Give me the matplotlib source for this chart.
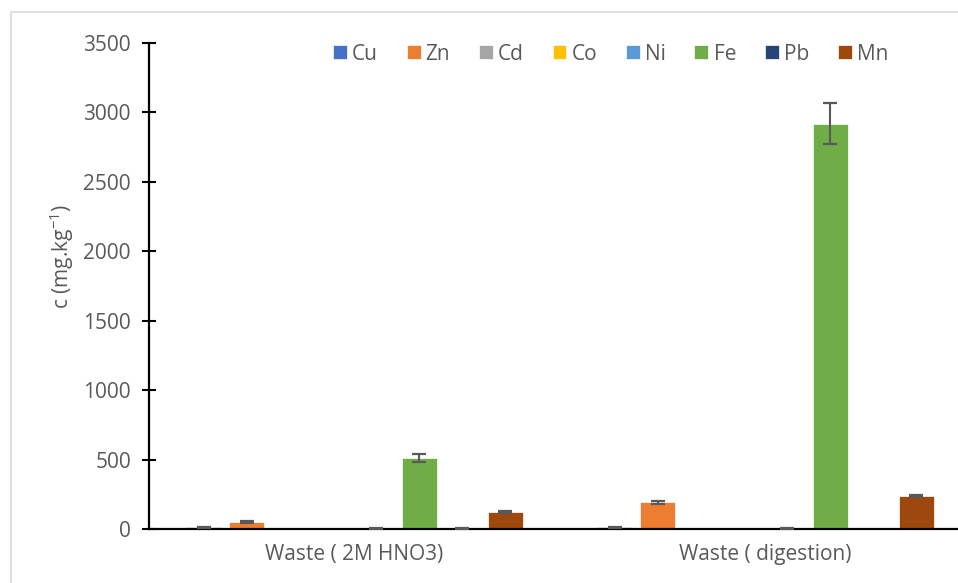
import numpy as np
import matplotlib
matplotlib.use("Agg")
import matplotlib.pyplot as plt
from matplotlib.patches import Rectangle

# Concentrations of metals in waste samples (mg/kg) with standard deviations
categories = ["Waste ( 2M HNO3)", "Waste ( digestion)"]
metals = ["Cu", "Zn", "Cd", "Co", "Ni", "Fe", "Pb", "Mn"]
values = {
    "Cu": [12, 12],
    "Zn": [53, 192],
    "Cd": [np.nan, np.nan],
    "Co": [np.nan, np.nan],
    "Ni": [4, 4],
    "Fe": [511, 2918],
    "Pb": [4, np.nan],
    "Mn": [125, 238],
}
errors = {
    "Cu": [4, 5],
    "Zn": [8, 12],
    "Cd": [0, 0],
    "Co": [0, 0],
    "Ni": [2, 2],
    "Fe": [27, 147],
    "Pb": [2, 0],
    "Mn": [8, 8],
}
colors = ["#4472C4", "#ED7D31", "#A5A5A5", "#FFC000",
          "#5B9BD5", "#70AD47", "#264478", "#9E480E"]

plt.rcParams["font.family"] = ["Open Sans", "DejaVu Sans"]
text_gray = "#595959"
fs = 15

W, H = 958, 583
fig = plt.figure(figsize=(W / 100, H / 100), dpi=100)

# chart frame
fig.patches.append(Rectangle((11 / W, -0.1), 1.2, (H - 12) / H + 0.1,
                             transform=fig.transFigure, fill=False,
                             edgecolor="#D9D9D9", linewidth=1.2))

ax_left, ax_right = 149, 971
ax_bottom, ax_top = 529, 43
ax = fig.add_axes([ax_left / W, (H - ax_bottom) / H,
                   (ax_right - ax_left) / W, (ax_bottom - ax_top) / H])

x = np.arange(len(categories))
step = 0.1049
width = 0.085
for i, (m, c) in enumerate(zip(metals, colors)):
    pos = x + (i - 3.5) * step
    v = np.array(values[m], dtype=float)
    e = np.array(errors[m], dtype=float)
    ax.bar(pos, v, width, color=c, edgecolor="white", linewidth=0.5,
           label=m, zorder=2)
    ax.errorbar(pos, v, yerr=e, fmt="none", ecolor=text_gray,
                elinewidth=1.5, capsize=4.7, capthick=1.6, zorder=3)

ax.set_xlim(-0.5, 1.5)
ax.set_ylim(0, 3500)
ax.set_yticks(np.arange(0, 3501, 500))
ax.set_xticks(x)
ax.set_xticklabels(categories)

for s in ["top", "right"]:
    ax.spines[s].set_visible(False)
for s in ["left", "bottom"]:
    ax.spines[s].set_color("black")
    ax.spines[s].set_linewidth(1.6)
ax.tick_params(axis="y", direction="inout", length=10, width=1.5,
               colors="black", labelcolor=text_gray, labelsize=fs, pad=8)
ax.tick_params(axis="x", length=0, labelcolor=text_gray, labelsize=fs, pad=11)

ax.set_ylabel("c (mg.kg$^{\\mathregular{-1}}$)", color=text_gray, fontsize=fs)
ax.yaxis.set_label_coords((76 - ax_left) / (ax_right - ax_left),
                          (ax_bottom - 257) / (ax_bottom - ax_top))

leg = ax.legend(ncol=8, loc="center left", frameon=False,
                bbox_to_anchor=((333 - ax_left) / (ax_right - ax_left),
                                (ax_bottom - 54) / (ax_bottom - ax_top)),
                handlelength=0.67, handleheight=0.67, handletextpad=0.25,
                columnspacing=1.37, fontsize=fs, borderpad=0, borderaxespad=0)
for t in leg.get_texts():
    t.set_color(text_gray)

fig.savefig("out.png", dpi=100)
